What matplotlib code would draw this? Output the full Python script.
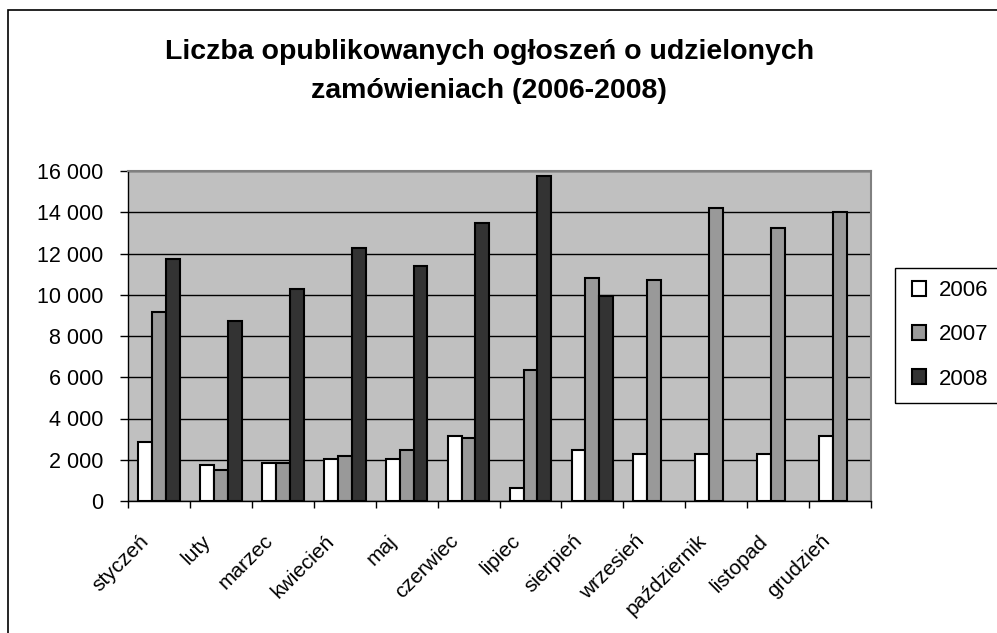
import numpy as np
import matplotlib
matplotlib.use("Agg")
import matplotlib.pyplot as plt
from matplotlib.patches import Rectangle
from matplotlib.transforms import ScaledTranslation
from matplotlib.ticker import FuncFormatter

plt.rcParams['font.family'] = ['Liberation Sans', 'DejaVu Sans']

months = ["styczeń", "luty", "marzec", "kwiecień", "maj", "czerwiec", "lipiec",
          "sierpień", "wrzesień", "październik", "listopad", "grudzień"]
years = ["2006", "2007", "2008"]
v2006 = [2850, 1730, 1840, 2060, 2060, 3150, 630, 2490, 2270, 2270, 2270, 3140]
v2007 = [9170, 1490, 1840, 2170, 2490, 3060, 6340, 10820, 10710, 14220, 13220, 13990]
v2008 = [11710, 8740, 10270, 12250, 11370, 13480, 15770, 9950, None, None, None, None]
title_lines = ["Liczba opublikowanych ogłoszeń o udzielonych", "zamówieniach (2006-2008)"]

W, H = 997, 633
fig = plt.figure(figsize=(W / 100, H / 100), dpi=100)
fig.patch.set_facecolor("white")

L, R, T, B = 128, 871, 171, 501
ax = fig.add_axes([L / W, 1 - B / H, (R - L) / W, (B - T) / H])
ax.set_facecolor("#C0C0C0")

x = np.arange(len(months))
bw = 0.224
colors = ["#FFFFFF", "#999999", "#333333"]
series = [v2006, v2007, v2008]
handles = []
for i, (vals, c, lab) in enumerate(zip(series, colors, years)):
    xs = [xi + (i - 1) * bw for xi, v in zip(x, vals) if v is not None]
    hs = [v for v in vals if v is not None]
    b = ax.bar(xs, hs, width=bw, color=c, edgecolor="black", linewidth=1.5,
               label=lab, zorder=3)
    handles.append(b)

ax.set_xlim(-0.5, 11.5)
ax.set_ylim(0, 16000)
ax.set_yticks(np.arange(0, 16001, 2000))
ax.yaxis.set_major_formatter(FuncFormatter(lambda v, p: f"{int(v):,}".replace(",", " ")))
ax.yaxis.grid(True, color="black", linewidth=1.0, zorder=1)
ax.set_axisbelow(True)

ax.set_xticks(np.arange(13) - 0.5)
ax.set_xticklabels([])
ax.tick_params(axis="x", direction="out", length=5, width=1, color="black")
ax.tick_params(axis="y", direction="out", length=6, width=1, color="black",
               labelsize=15.5, pad=12)

for s in ["top", "right"]:
    ax.spines[s].set_color("#808080")
    ax.spines[s].set_linewidth(1.5)
for s in ["left", "bottom"]:
    ax.spines[s].set_color("black")
    ax.spines[s].set_linewidth(1.0)

off = ScaledTranslation(-13 / 100, -37 / 100, fig.dpi_scale_trans)
for xi, m in zip(x, months):
    ax.text(xi, 0, m, transform=ax.get_xaxis_transform() + off, rotation=45,
            ha="right", va="center", rotation_mode="anchor", fontsize=15)

fig.text(490 / W, 1 - 59 / H, title_lines[0], ha="center", va="baseline",
         fontsize=20.5, fontweight="bold")
fig.text(489 / W, 1 - 98 / H, title_lines[1], ha="center", va="baseline",
         fontsize=20.5, fontweight="bold")

# outer chart frame
fig.add_artist(Rectangle((8 / W, -0.2), 1.2, 1 - 10 / H + 0.2, transform=fig.transFigure,
                         fill=False, edgecolor="black", linewidth=1.2))
# legend frame
fig.add_artist(Rectangle((895 / W, 1 - 403 / H), 0.3, (403 - 268) / H, transform=fig.transFigure,
                         fill=False, edgecolor="black", linewidth=1.0))
leg = fig.legend(handles=handles, labels=years, loc="upper left",
                 bbox_to_anchor=(912 / W, 1 - 280 / H), bbox_transform=fig.transFigure,
                 frameon=False, fontsize=16, handlelength=0.65, handleheight=0.65,
                 handletextpad=0.55, labelspacing=1.05, borderpad=0, borderaxespad=0)

fig.savefig("out.png", dpi=100)
